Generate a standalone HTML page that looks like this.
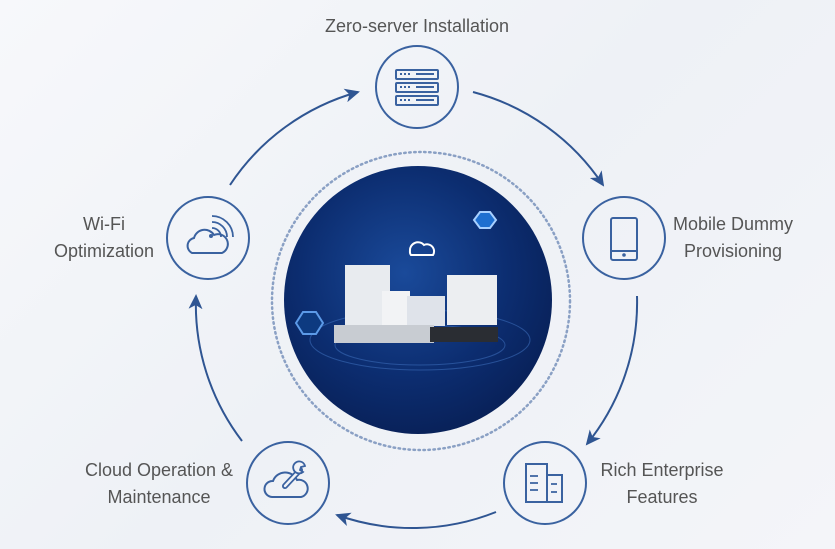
<!DOCTYPE html>
<html><head><meta charset="utf-8"><style>
html,body{margin:0;padding:0}
body{width:835px;height:549px;overflow:hidden;background:linear-gradient(135deg,#f7f8fb 0%,#eef1f6 50%,#f4f5f9 100%);font-family:"Liberation Sans",sans-serif;position:relative}
.t{position:absolute;color:#555;font-size:18px;line-height:27px;text-align:center;white-space:nowrap;width:240px}
</style></head><body>
<svg width="835" height="549" style="position:absolute;left:0;top:0">
<defs>
<radialGradient id="g" cx="45%" cy="40%" r="65%">
<stop offset="0" stop-color="#1a4a9a"/><stop offset="0.6" stop-color="#0c2d70"/><stop offset="1" stop-color="#081f55"/>
</radialGradient>
<marker id="a" markerWidth="16" markerHeight="14" refX="13" refY="7" orient="auto" markerUnits="userSpaceOnUse">
<path d="M0,0 L15,7 L0,14 L4,7 z" fill="#2f5592"/></marker>
</defs>
<circle cx="421" cy="301" r="149" fill="none" stroke="#8aa0c4" stroke-width="2.5" stroke-dasharray="1.5 3.5" stroke-linecap="round"/>
<circle cx="418" cy="300" r="134" fill="url(#g)"/>
<ellipse cx="420" cy="340" rx="110" ry="30" fill="none" stroke="#3a6ab8" stroke-width="1" opacity=".6"/>
<ellipse cx="420" cy="345" rx="85" ry="20" fill="none" stroke="#3a6ab8" stroke-width="1" opacity=".6"/>
<polygon points="474,220 480,212 490,212 496,220 490,228 480,228" fill="#1e6fd0" stroke="#a8d0ff" stroke-width="2"/>
<polygon points="296,323 303,312 316,312 323,323 316,334 303,334" fill="#0d3a80" stroke="#5c9ae8" stroke-width="2"/>
<path d="M410,251 a8,8 0 0 1 14,-6 a7,7 0 0 1 9,10 h-22 a5,5 0 0 1 -1,-4z" fill="none" stroke="#fff" stroke-width="2"/>
<rect x="345" y="265" width="45" height="60" fill="#e8ebef"/>
<rect x="382" y="291" width="28" height="35" fill="#f2f3f5"/>
<rect x="447" y="275" width="50" height="50" fill="#eceef1"/>
<rect x="407" y="296" width="38" height="30" fill="#dfe3ea"/>
<rect x="334" y="325" width="100" height="18" fill="#c8ccd2"/>
<rect x="430" y="327" width="68" height="15" fill="#2a2d33"/>
<g fill="none" stroke="#3a62a0" stroke-width="2">
<circle cx="417" cy="87" r="41"/>
<circle cx="624" cy="238" r="41"/>
<circle cx="545" cy="483" r="41"/>
<circle cx="288" cy="483" r="41"/>
<circle cx="208" cy="238" r="41"/>
<rect x="396" y="70" width="42" height="9" rx="1"/><rect x="396" y="83" width="42" height="9" rx="1"/><rect x="396" y="96" width="42" height="9" rx="1"/>
<rect x="611" y="218" width="26" height="42" rx="2"/><line x1="611" y1="251" x2="637" y2="251"/>
<rect x="526" y="464" width="21" height="38"/><rect x="547" y="475" width="15" height="27"/>
<path d="M530,476h8M530,483h8M530,490h8M551,484h6M551,492h6" stroke-width="1.8"/>
<path d="M192,253 a8,8 0 0 1 2,-15 a11,11 0 0 1 20,-3 a9,9 0 0 1 8,18 z"/>
<path d="M212,228 a9,9 0 0 1 9,9 M212,222 a15,15 0 0 1 15,15 M212,216 a21,21 0 0 1 21,21" stroke-width="1.8"/>
<path d="M272,497 a8,8 0 0 1 1,-16 a13,13 0 0 1 24,-1 a8.5,8.5 0 0 1 4,17 z"/>
</g>
<path d="M285,486 L300,470" stroke="#3a62a0" stroke-width="6" stroke-linecap="round"/>
<path d="M285,486 L300,470" stroke="#f1f3f7" stroke-width="2.4" stroke-linecap="round"/>
<path d="M297,473 a6,6 0 1 1 8,-7 l-4,1 l-1,3 l3,2 a6,6 0 0 1 -6,1z" fill="#f1f3f7" stroke="#3a62a0" stroke-width="1.8"/>
<g fill="#3a62a0"><circle cx="211" cy="236" r="2"/>
<rect x="400" y="73" width="2" height="2"/><rect x="404" y="73" width="2" height="2"/><rect x="408" y="73" width="2" height="2"/><rect x="416" y="73" width="18" height="2"/>
<rect x="400" y="86" width="2" height="2"/><rect x="404" y="86" width="2" height="2"/><rect x="408" y="86" width="2" height="2"/><rect x="416" y="86" width="18" height="2"/>
<rect x="400" y="99" width="2" height="2"/><rect x="404" y="99" width="2" height="2"/><rect x="408" y="99" width="2" height="2"/><rect x="416" y="99" width="18" height="2"/>
<circle cx="624" cy="255" r="1.8"/></g>
<g fill="none" stroke="#2f5592" stroke-width="2" marker-end="url(#a)">
<path d="M230,185 A225,225 0 0 1 358,92"/>
<path d="M473,92 A225,225 0 0 1 603,185"/>
<path d="M637,296 A225,225 0 0 1 587,444"/>
<path d="M496,512 A225,225 0 0 1 337,515"/>
<path d="M242,441 A225,225 0 0 1 196,296"/>
</g>
</svg>
<div class="t" style="left:297px;top:13px">Zero-server Installation</div>
<div class="t" style="left:613px;top:211px">Mobile Dummy<br>Provisioning</div>
<div class="t" style="left:542px;top:457px">Rich Enterprise<br>Features</div>
<div class="t" style="left:39px;top:457px">Cloud Operation &amp;<br>Maintenance</div>
<div class="t" style="left:-16px;top:211px">Wi-Fi<br>Optimization</div>
</body></html>
